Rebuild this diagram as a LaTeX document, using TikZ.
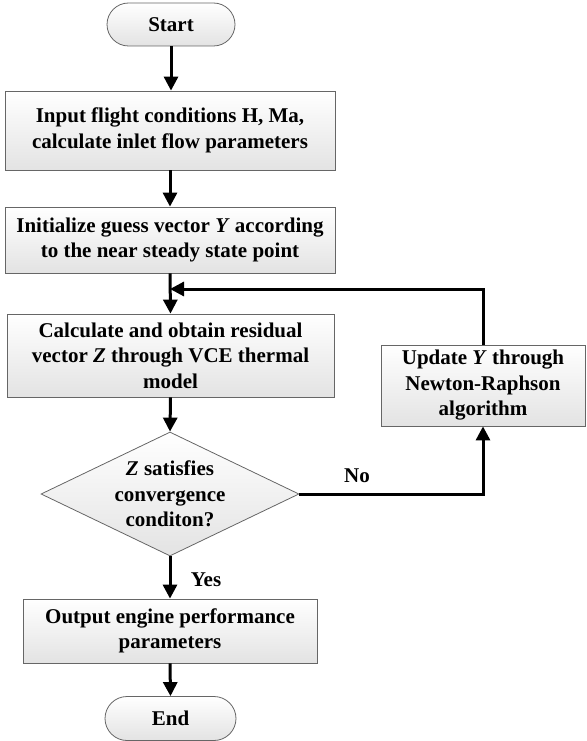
\documentclass[tikz,border=0pt]{standalone}
\usepackage{fontspec}
\setmainfont{Liberation Serif}
\usetikzlibrary{shapes.geometric,shapes.misc,arrows.meta}
\begin{document}
\begin{tikzpicture}[x=1pt,y=-1pt,
  every node/.style={font=\fontsize{21}{25.5}\selectfont\bfseries, align=center, inner sep=0pt},
  procbox/.style={draw=black!60, line width=0.8pt, rectangle, top color=white, bottom color=black!11},
  termbox/.style={draw=black!60, line width=0.8pt, rounded rectangle, top color=white, bottom color=black!11},
  decbox/.style={draw=black!60, line width=0.8pt, diamond, top color=white, bottom color=black!11},
  flow/.style={line width=3pt, -{Triangle[width=14pt,length=14pt]}},
  lbl/.style={font=\fontsize{21}{25.5}\selectfont\bfseries}
]
\useasboundingbox (0,0) rectangle (586,741);
\node[termbox, minimum width=128pt, minimum height=43pt] (start) at (171,24.5) {Start};
\node[procbox, minimum width=330pt, minimum height=79pt] (b1) at (170,130.5)
  {Input flight conditions H, Ma,\\calculate inlet flow parameters};
\node[procbox, minimum width=330pt, minimum height=66pt] (b2) at (170,240)
  {Initialize guess vector \textit{Y} according\\to the near steady state point};
\node[procbox, minimum width=327pt, minimum height=83pt] (b3) at (170.5,355.5)
  {Calculate and obtain residual\\vector \textit{Z} through VCE thermal\\model};
\node[decbox, minimum width=258pt, minimum height=124pt, aspect=2.08,
  label={[align=center, font=\fontsize{21}{25.5}\selectfont\bfseries]center:\textit{Z} satisfies\\convergence\\conditon?}] (dec) at (170,494) {};
\node[procbox, minimum width=204pt, minimum height=81pt] (upd) at (483,385.5)
  {Update \textit{Y} through\\Newton-Raphson\\algorithm};
\node[procbox, minimum width=294pt, minimum height=64pt] (out) at (170,631)
  {Output engine performance\\parameters};
\node[termbox, minimum width=131pt, minimum height=44pt] (end) at (170.5,718.5) {End};
\coordinate (m) at (170,289);

\draw[flow] (start.south) -- (start.south |- b1.north);
\draw[flow] (b1.south) -- (b2.north);
\draw[flow] (b2.south) -- (b3.north);
\draw[flow] (upd.north) |- (m);
\draw[flow] (b3.south) -- (dec.north);
\draw[flow] (dec.east) -| (upd.south);
\draw[flow] (dec.south) -- (out.north);
\draw[flow] (out.south) -- (end.north);
\node[lbl] (no) at (357,476) {No};
\node[lbl] (yes) at (206,580) {Yes};
\end{tikzpicture}
\end{document}
